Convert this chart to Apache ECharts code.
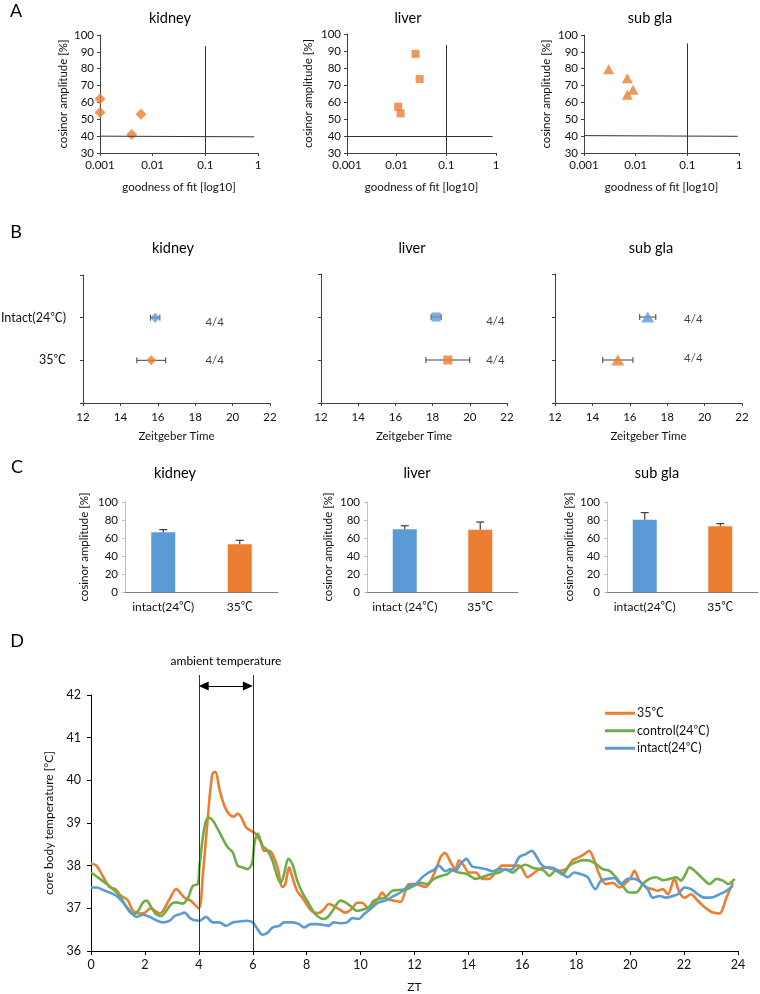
<!DOCTYPE html>
<html>
<head>
<meta charset="utf-8">
<script src="https://cdn.jsdelivr.net/npm/echarts@6/dist/echarts.min.js"></script>
<style>
  html, body { margin: 0; padding: 0; background: #fff; }
  #main { width: 760px; height: 994px; }
</style>
</head>
<body>
<div id="main"></div>
<script>
var organs = ['kidney', 'liver', 'sub gla']
var organSymbols = ['diamond', 'rect', 'triangle']

// A: goodness of fit vs cosinor amplitude (35℃)
var fitKidney = [0.001, 0.001, 0.006, 0.004]
var ampKidney = [62, 54, 53, 41]
var fitLiver = [0.024, 0.029, 0.0107, 0.012]
var ampLiver = [88.3, 73.5, 57.2, 53.3]
var fitSubgla = [0.003, 0.0069, 0.0089, 0.0069]
var ampSubgla = [79.7, 74.4, 67.5, 64.5]
var fitTicks = ['0.001', '0.01', '0.1', '1']
var fitThreshold = 0.1
var ampThreshold = 40

// B: peak phase (Zeitgeber Time), mean ± error
var phaseGroups = ['35℃', 'Intact(24℃)']
var phaseIntact = [15.86, 18.19, 16.96]
var phaseIntactErr = [0.25, 0.27, 0.43]
var phase35 = [15.65, 18.82, 15.36]
var phase35Err = [0.77, 1.18, 0.81]
var phaseN = ['4/4', '4/4']
var phaseNx = [19.04, 21.38, 19.4]

// C: cosinor amplitude bars
var ampGroups = [['intact(24℃)', '35℃'], ['intact (24℃)', '35℃'], ['intact(24℃)', '35℃']]
var ampIntact = [66.3, 69.6, 80.4]
var ampIntactErr = [3, 4, 7.8]
var amp35 = [53, 69.3, 73]
var amp35Err = [4.4, 8.5, 3]

// D: core body temperature over ZT
var ambientStart = 4
var ambientEnd = 6
var zt35 = [0, 0.2, 0.46, 0.7, 0.9, 1.1, 1.35, 1.56, 1.8, 2.0, 2.2, 2.55, 2.9, 3.16, 3.47, 3.7, 4.0, 4.15, 4.33, 4.5, 4.62, 4.76, 4.95, 5.13, 5.3, 5.44, 5.56, 5.75, 5.93, 6.1, 6.3, 6.42, 6.6, 6.73, 6.92, 7.1, 7.2, 7.35, 7.47, 7.65, 7.84, 8.1, 8.27, 8.45, 8.64, 8.82, 9.0, 9.2, 9.44, 9.69, 9.87, 10.05, 10.3, 10.49, 10.67, 10.8, 10.98, 11.23, 11.48, 11.79, 12.04, 12.4, 12.72, 12.97, 13.13, 13.34, 13.52, 13.65, 13.83, 14.02, 14.27, 14.52, 14.76, 15.0, 15.26, 15.5, 15.88, 16.0, 16.19, 16.38, 16.62, 16.87, 17.12, 17.37, 17.62, 17.86, 18.11, 18.3, 18.48, 18.67, 18.85, 19.1, 19.35, 19.6, 19.85, 20.03, 20.16, 20.34, 20.59, 20.84, 21.02, 21.21, 21.4, 21.64, 21.83, 22.02, 22.26, 22.45, 22.7, 22.95, 23.07, 23.32, 23.57, 23.81]
var temp35 = [38.05, 38.0, 37.73, 37.49, 37.45, 37.3, 37.2, 36.94, 36.88, 36.9, 37.0, 36.88, 37.2, 37.45, 37.25, 37.18, 37.0, 37.8, 39.1, 40.15, 40.2, 39.8, 39.4, 39.2, 39.15, 39.22, 39.15, 38.9, 38.82, 38.75, 38.55, 38.35, 38.35, 38.27, 37.96, 37.5, 37.55, 37.96, 37.73, 37.4, 37.25, 37.0, 36.9, 36.89, 36.98, 37.1, 37.06, 36.98, 36.9, 37.0, 37.13, 37.13, 37.0, 37.1, 37.25, 37.37, 37.22, 37.18, 37.15, 37.57, 37.57, 37.5, 37.8, 38.2, 38.3, 38.08, 37.92, 38.12, 38.0, 37.84, 37.84, 37.69, 37.69, 37.84, 38.0, 38.0, 38.0, 37.92, 37.73, 37.8, 37.92, 37.96, 37.92, 37.88, 37.92, 38.12, 38.2, 38.27, 38.35, 38.12, 37.8, 37.57, 37.6, 37.49, 37.6, 37.73, 37.88, 37.65, 37.49, 37.45, 37.41, 37.45, 37.33, 37.69, 37.37, 37.25, 37.33, 37.22, 37.06, 36.94, 36.9, 36.88, 37.25, 37.6]

var ztControl = [0, 0.33, 0.58, 0.82, 1.07, 1.32, 1.56, 1.75, 1.93, 2.06, 2.24, 2.42, 2.6, 2.79, 2.98, 3.16, 3.41, 3.6, 3.78, 3.96, 4.02, 4.15, 4.27, 4.39, 4.52, 4.7, 4.89, 5.07, 5.26, 5.44, 5.62, 5.8, 5.97, 6.06, 6.18, 6.36, 6.55, 6.73, 6.92, 7.04, 7.16, 7.32, 7.47, 7.65, 7.84, 8.09, 8.33, 8.64, 8.82, 9.0, 9.25, 9.44, 9.69, 9.87, 10.12, 10.3, 10.49, 10.67, 10.92, 11.17, 11.42, 11.73, 11.98, 12.22, 12.47, 12.72, 12.97, 13.21, 13.4, 13.65, 13.96, 14.27, 14.52, 14.83, 15.14, 15.38, 15.63, 15.88, 16.13, 16.38, 16.62, 16.81, 17.0, 17.24, 17.49, 17.74, 17.99, 18.24, 18.48, 18.73, 18.98, 19.23, 19.47, 19.72, 19.97, 20.22, 20.47, 20.71, 20.96, 21.21, 21.46, 21.71, 21.89, 22.05, 22.2, 22.39, 22.64, 22.95, 23.2, 23.44, 23.63, 23.88]
var tempControl = [37.84, 37.69, 37.57, 37.45, 37.29, 37.02, 36.86, 36.94, 37.14, 37.18, 37.02, 36.86, 36.82, 36.94, 37.1, 37.14, 37.11, 37.25, 37.53, 37.57, 37.96, 38.67, 39.06, 39.12, 39.06, 38.86, 38.63, 38.43, 38.31, 38.0, 37.96, 37.92, 38.04, 38.51, 38.75, 38.47, 38.35, 38.12, 37.73, 37.6, 37.8, 38.16, 38.04, 37.65, 37.37, 37.1, 36.86, 36.75, 36.82, 36.98, 37.18, 37.14, 37.02, 36.94, 36.98, 37.02, 37.18, 37.22, 37.25, 37.41, 37.43, 37.45, 37.53, 37.6, 37.57, 37.69, 37.76, 37.8, 37.88, 37.84, 37.8, 37.69, 37.73, 37.8, 37.84, 37.92, 37.84, 37.96, 38.02, 37.95, 37.92, 37.88, 37.76, 37.88, 37.8, 38.0, 38.08, 38.13, 38.12, 38.04, 37.92, 37.88, 37.73, 37.53, 37.37, 37.37, 37.57, 37.69, 37.73, 37.66, 37.69, 37.73, 37.65, 37.8, 37.96, 37.88, 37.73, 37.57, 37.69, 37.65, 37.57, 37.69]

var ztIntact = [0, 0.21, 0.46, 0.7, 0.95, 1.19, 1.44, 1.69, 1.93, 2.18, 2.42, 2.67, 2.92, 3.1, 3.29, 3.47, 3.66, 3.84, 4.02, 4.27, 4.52, 4.76, 5.01, 5.26, 5.5, 5.75, 6.0, 6.18, 6.36, 6.55, 6.73, 6.98, 7.16, 7.47, 7.72, 7.9, 8.15, 8.39, 8.64, 8.82, 9.0, 9.25, 9.5, 9.69, 9.93, 10.12, 10.36, 10.67, 10.92, 11.23, 11.48, 11.79, 12.04, 12.29, 12.53, 12.72, 12.9, 13.15, 13.34, 13.52, 13.71, 13.92, 14.14, 14.39, 14.64, 14.89, 15.14, 15.38, 15.63, 15.88, 16.13, 16.35, 16.5, 16.69, 16.87, 17.12, 17.43, 17.68, 17.93, 18.18, 18.42, 18.71, 18.92, 19.17, 19.41, 19.66, 19.91, 20.16, 20.47, 20.65, 20.84, 21.09, 21.33, 21.58, 21.77, 22.02, 22.26, 22.51, 22.76, 23.07, 23.32, 23.57, 23.81]
var tempIntact = [37.49, 37.49, 37.43, 37.37, 37.29, 37.14, 36.94, 36.8, 36.85, 36.8, 36.72, 36.67, 36.71, 36.82, 36.86, 36.9, 36.78, 36.72, 36.71, 36.8, 36.67, 36.67, 36.59, 36.67, 36.69, 36.71, 36.67, 36.51, 36.38, 36.43, 36.55, 36.59, 36.67, 36.67, 36.63, 36.55, 36.63, 36.63, 36.61, 36.59, 36.67, 36.65, 36.67, 36.77, 36.75, 36.86, 36.98, 37.14, 37.18, 37.29, 37.37, 37.53, 37.57, 37.73, 37.84, 37.9, 38.0, 37.87, 37.92, 37.88, 38.04, 38.16, 37.98, 37.95, 37.92, 37.87, 37.92, 37.9, 37.92, 38.2, 38.27, 38.35, 38.24, 38.04, 37.96, 37.95, 37.84, 37.73, 37.84, 37.8, 37.73, 37.45, 37.65, 37.69, 37.71, 37.57, 37.69, 37.69, 37.57, 37.45, 37.25, 37.29, 37.25, 37.29, 37.33, 37.49, 37.45, 37.33, 37.25, 37.26, 37.33, 37.41, 37.53]

var seriesNames = ['35℃', 'control(24℃)', 'intact(24℃)']

var blue = '#5B9BD5'
var orange = '#ED7D31'
var green = '#70AD47'
var ink = '#111'
var axisInk = '#404040'
var fontFam = 'Lato, "Noto Sans CJK SC", sans-serif'

function zip (xs, ys) {
  return xs.map(function (x, i) { return [x, ys[i]] })
}

// horizontal error bar with caps
function hErrorBar (params, api) {
  var y = api.value(1)
  var lo = api.coord([api.value(0) - api.value(2), y])
  var hi = api.coord([api.value(0) + api.value(2), y])
  var cap = 3
  var st = { stroke: axisInk, lineWidth: 1 }
  return {
    type: 'group',
    children: [
      { type: 'line', shape: { x1: lo[0], y1: lo[1], x2: hi[0], y2: hi[1] }, style: st },
      { type: 'line', shape: { x1: lo[0], y1: lo[1] - cap, x2: lo[0], y2: lo[1] + cap }, style: st },
      { type: 'line', shape: { x1: hi[0], y1: hi[1] - cap, x2: hi[0], y2: hi[1] + cap }, style: st }
    ]
  }
}

// upper error bar for the bars
function vErrorBar (params, api) {
  var base = api.coord([api.value(0), api.value(1)])
  var top = api.coord([api.value(0), api.value(1) + api.value(2)])
  var cap = 4
  var st = { stroke: axisInk, lineWidth: 1.2 }
  return {
    type: 'group',
    children: [
      { type: 'line', shape: { x1: base[0], y1: base[1], x2: top[0], y2: top[1] }, style: st },
      { type: 'line', shape: { x1: top[0] - cap, y1: top[1], x2: top[0] + cap, y2: top[1] }, style: st }
    ]
  }
}

var grids = []
var xAxes = []
var yAxes = []
var series = []

function axisBase () {
  return {
    axisLine: { show: true, lineStyle: { color: axisInk, width: 1 } },
    axisTick: { show: true, length: 3, lineStyle: { color: axisInk } },
    splitLine: { show: false },
    nameTextStyle: { fontSize: 11.5, color: ink, fontFamily: fontFam },
    nameLocation: 'middle'
  }
}

// ---------- A ----------
var gridA = [
  { left: 100, top: 35, width: 158, height: 118 },
  { left: 347, top: 34, width: 149, height: 119 },
  { left: 584, top: 35, width: 155, height: 118 }
]
var aFits = [fitKidney, fitLiver, fitSubgla]
var aAmps = [ampKidney, ampLiver, ampSubgla]
var aSizes = [11, 8, [11, 10]]
var aYGap = [31, 33, 32]
var aLineEnd = [[0.85, 39.6], [0.85, 40], [0.95, 39.9]]
var aLineStart = [40, 40, 40.3]
var aVTop = [93.5, 93.5, 95]
gridA.forEach(function (g, i) {
  grids.push(Object.assign({ outerBoundsMode: 'none' }, g))
  xAxes.push(Object.assign(axisBase(), {
    gridIndex: i, type: 'log', logBase: 10, min: 0.001, max: 1,
    name: 'goodness of fit [log10]', nameGap: 29,
    axisLabel: {
      fontSize: 11.5, color: ink, margin: 7, fontFamily: fontFam,
      formatter: function (v) { return fitTicks[Math.round(Math.log10(v)) + 3] }
    }
  }))
  yAxes.push(Object.assign(axisBase(), {
    gridIndex: i, type: 'value', min: 30, max: 100, interval: 10,
    name: 'cosinor amplitude [%]', nameGap: aYGap[i],
    axisLabel: { fontSize: 11.5, color: ink, margin: 6, fontFamily: fontFam }
  }))
  series.push({
    type: 'scatter', xAxisIndex: i, yAxisIndex: i,
    symbol: organSymbols[i], symbolSize: aSizes[i],
    itemStyle: { color: orange },
    data: zip(aFits[i], aAmps[i]),
    markLine: {
      silent: true, symbol: ['none', 'none'], animation: false,
      label: { show: false },
      lineStyle: { color: '#333', width: 1, type: 'solid' },
      data: [
        [{ coord: [fitThreshold, 30] }, { coord: [fitThreshold, aVTop[i]] }],
        [{ coord: [0.001, aLineStart[i]] }, { coord: aLineEnd[i] }]
      ]
    }
  })
})

// ---------- B ----------
var gridB = [
  { left: 83, top: 275, width: 187, height: 128 },
  { left: 321, top: 274, width: 186, height: 129 },
  { left: 555, top: 274, width: 187, height: 129 }
]
var bSizes = [10, 9, [13, 11]]
var bNy = [[1.88, 1.0], [1.9, 1.0], [1.95, 1.05]]
gridB.forEach(function (g, k) {
  var i = k + 3
  grids.push(Object.assign({ outerBoundsMode: 'none' }, g))
  xAxes.push(Object.assign(axisBase(), {
    gridIndex: i, type: 'value', min: 12, max: 22, interval: 2,
    name: 'Zeitgeber Time', nameGap: 28,
    axisLabel: { fontSize: 11.5, color: ink, margin: 9, fontFamily: fontFam }
  }))
  yAxes.push(Object.assign(axisBase(), {
    gridIndex: i, type: 'value', min: 0, max: 3, interval: 1,
    axisLabel: {
      show: k === 0, fontSize: 12.5, color: ink, margin: 17, fontFamily: fontFam,
      formatter: function (v) { return phaseGroups[v - 1] || '' }
    }
  }))
  series.push({
    type: 'custom', xAxisIndex: i, yAxisIndex: i, z: 2,
    renderItem: hErrorBar,
    encode: { x: 0, y: 1 },
    data: [[phaseIntact[k], 2, phaseIntactErr[k]], [phase35[k], 1, phase35Err[k]]]
  })
  series.push({
    type: 'scatter', xAxisIndex: i, yAxisIndex: i, z: 3,
    symbol: organSymbols[k], symbolSize: bSizes[k],
    data: [
      { value: [phaseIntact[k], 2], itemStyle: { color: blue } },
      { value: [phase35[k], 1], itemStyle: { color: orange } }
    ]
  })
  series.push({
    type: 'scatter', xAxisIndex: i, yAxisIndex: i, z: 3, silent: true,
    symbolSize: 1, itemStyle: { color: 'rgba(0,0,0,0)' },
    label: {
      show: true, position: 'inside', fontSize: 11.5, color: ink, fontFamily: fontFam,
      formatter: function (p) { return phaseN[p.dataIndex] }
    },
    data: [[phaseNx[k], bNy[k][0]], [phaseNx[k], bNy[k][1]]]
  })
})

// ---------- C ----------
var gridC = [
  { left: 125, top: 502, width: 153, height: 90 },
  { left: 367, top: 502, width: 151, height: 90 },
  { left: 607, top: 502, width: 151, height: 90 }
]
var cYGap = [35, 33, 32]
gridC.forEach(function (g, k) {
  var i = k + 6
  grids.push(Object.assign({ outerBoundsMode: 'none' }, g))
  xAxes.push({
    gridIndex: i, type: 'category', data: ampGroups[k],
    axisLine: { show: true, lineStyle: { color: '#7f7f7f' } },
    axisTick: { show: false },
    axisLabel: { fontSize: 12, color: ink, margin: 9, fontFamily: fontFam, interval: 0 }
  })
  yAxes.push(Object.assign(axisBase(), {
    gridIndex: i, type: 'value', min: 0, max: 100, interval: 20,
    name: 'cosinor amplitude [%]', nameGap: cYGap[k],
    axisLine: { show: true, lineStyle: { color: '#bfbfbf' } },
    axisTick: { show: true, length: 3, lineStyle: { color: '#bfbfbf' } },
    axisLabel: { fontSize: 11.5, color: ink, margin: 7, fontFamily: fontFam }
  }))
  series.push({
    type: 'bar', xAxisIndex: i, yAxisIndex: i, barWidth: 24,
    data: [
      { value: ampIntact[k], itemStyle: { color: blue } },
      { value: amp35[k], itemStyle: { color: orange } }
    ]
  })
  series.push({
    type: 'custom', xAxisIndex: i, yAxisIndex: i, z: 3,
    renderItem: vErrorBar,
    encode: { x: 0, y: 1 },
    data: [[0, ampIntact[k], ampIntactErr[k]], [1, amp35[k], amp35Err[k]]]
  })
})

// ---------- D ----------
grids.push({ left: 91, top: 695, width: 647, height: 256, outerBoundsMode: 'none' })
xAxes.push({
  gridIndex: 9, type: 'value', min: 0, max: 24, interval: 2,
  name: 'ZT', nameLocation: 'middle', nameGap: 30,
  nameTextStyle: { fontSize: 12, color: ink, fontFamily: fontFam },
  axisLine: { show: true, lineStyle: { color: '#000', width: 1 } },
  axisTick: { show: true, length: 4, lineStyle: { color: '#000' } },
  axisLabel: { fontSize: 12.5, color: ink, margin: 8, fontFamily: fontFam },
  splitLine: { show: false }
})
yAxes.push({
  gridIndex: 9, type: 'value', min: 36, max: 42, interval: 1,
  name: 'core body temperature [°C]', nameLocation: 'middle', nameGap: 32,
  nameTextStyle: { fontSize: 12, color: ink, fontFamily: fontFam },
  axisLine: { show: true, lineStyle: { color: '#000', width: 1 } },
  axisTick: { show: true, length: 4, lineStyle: { color: '#000' } },
  axisLabel: { fontSize: 12.5, color: ink, margin: 10, fontFamily: fontFam },
  splitLine: { show: false }
})
var dData = [zip(zt35, temp35), zip(ztControl, tempControl), zip(ztIntact, tempIntact)]
var dColors = [orange, green, blue]
dData.forEach(function (d, j) {
  series.push({
    name: seriesNames[j], type: 'line', xAxisIndex: 9, yAxisIndex: 9,
    data: d, smooth: 0.3, showSymbol: false, symbol: 'none',
    itemStyle: { color: dColors[j] },
    lineStyle: { color: dColors[j], width: 2.6 }
  })
})

// overlay grid for the ambient temperature window (lines reach above the plot)
grids.push({ left: 91, top: 675, width: 647, height: 276, outerBoundsMode: 'none' })
xAxes.push({ gridIndex: 10, type: 'value', min: 0, max: 24, show: false })
yAxes.push({ gridIndex: 10, type: 'value', min: 0, max: 1, show: false })
series.push({
  type: 'line', xAxisIndex: 10, yAxisIndex: 10, data: [], silent: true,
  markLine: {
    silent: true, symbol: ['none', 'none'], animation: false,
    label: { show: false },
    lineStyle: { color: '#333', width: 1, type: 'solid' },
    data: [{ xAxis: ambientStart }, { xAxis: ambientEnd }]
  }
})
series.push({
  type: 'line', xAxisIndex: 10, yAxisIndex: 10, data: [], silent: true,
  markLine: {
    silent: true, symbol: ['triangle', 'triangle'], symbolSize: [9, 10], animation: false,
    label: { show: false },
    lineStyle: { color: '#000', width: 1, type: 'solid' },
    itemStyle: { color: '#000' },
    data: [[{ coord: [ambientStart + 0.18, 0.96] }, { coord: [ambientEnd - 0.18, 0.96] }]]
  }
})

// titles and panel letters
var labels = [
  ['A', 16, 11, 18], ['B', 16, 232, 18], ['C', 17, 467, 18], ['D', 17, 641, 18],
  [organs[0], 170, 18, 14.5], [organs[1], 408, 18, 14.5], [organs[2], 650, 18, 14.5],
  [organs[0], 173, 248, 14.5], [organs[1], 412, 248, 14.5], [organs[2], 651, 248, 14.5],
  [organs[0], 175, 473, 14.5], [organs[1], 417, 473, 14.5], [organs[2], 657, 473, 14.5],
  ['ambient temperature', 226, 661, 12]
]
var graphics = labels.map(function (t) {
  return {
    type: 'text', x: t[1], y: t[2], silent: true,
    style: {
      text: t[0], fontSize: t[3], fill: '#000', fontFamily: fontFam,
      textAlign: 'center', textVerticalAlign: 'middle'
    }
  }
})

var chart = echarts.init(document.getElementById('main'))
chart.setOption({
  animation: false,
  backgroundColor: '#fff',
  textStyle: { fontFamily: fontFam },
  legend: {
    data: seriesNames, orient: 'vertical', left: 600, top: 702,
    icon: 'rect', itemWidth: 30, itemHeight: 3, itemGap: 5,
    textStyle: { fontSize: 12.5, color: ink, fontFamily: fontFam, padding: [0, 0, 0, -3] }
  },
  grid: grids,
  xAxis: xAxes,
  yAxis: yAxes,
  series: series,
  graphic: graphics
})
</script>
</body>
</html>
